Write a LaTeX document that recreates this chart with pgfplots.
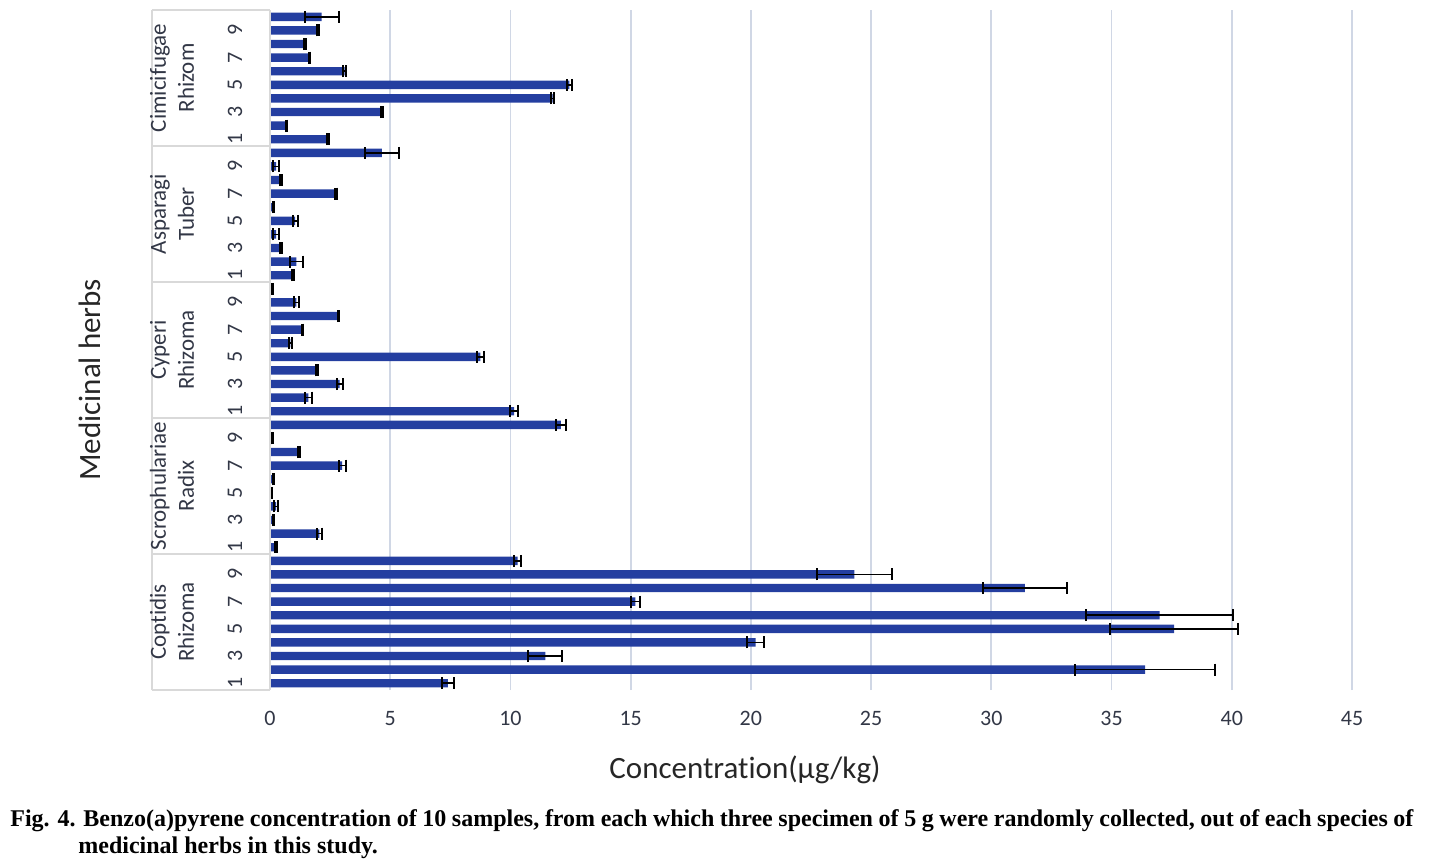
\documentclass[border=0pt]{standalone}
\usepackage{pgfplots}
\pgfplotsset{compat=1.18}
\usepackage{pgfplotstable}
\usepackage{fontspec}
\setmainfont{Carlito}[Ligatures=CommonOff]
\newfontfamily\capfont{Liberation Serif}
\definecolor{barblue}{RGB}{36,62,160}
\definecolor{gridc}{RGB}{208,215,229}
\definecolor{boxgray}{RGB}{217,217,217}
\definecolor{txt}{RGB}{50,55,70}

\pgfplotstableread{
y x err
1 7.4 0.25
2 36.4 2.9
3 11.45 0.7
4 20.2 0.35
5 37.6 2.65
6 37.0 3.05
7 15.2 0.2
8 31.4 1.75
9 24.3 1.55
10 10.3 0.15
11 0.25 0.05
12 2.05 0.1
13 0.15 0.03
14 0.25 0.08
15 0.05 0.02
16 0.15 0.03
17 3.0 0.15
18 1.2 0.03
19 0.1 0.02
20 12.1 0.2
21 10.15 0.15
22 1.6 0.15
23 2.9 0.12
24 1.95 0.05
25 8.75 0.15
26 0.85 0.05
27 1.35 0.03
28 2.85 0.03
29 1.1 0.1
30 0.1 0.02
31 0.95 0.03
32 1.1 0.28
33 0.45 0.05
34 0.25 0.12
35 1.05 0.1
36 0.15 0.03
37 2.75 0.03
38 0.45 0.03
39 0.25 0.12
40 4.65 0.7
41 2.4 0.05
42 0.7 0.02
43 4.65 0.05
44 11.75 0.08
45 12.45 0.1
46 3.1 0.05
47 1.65 0.03
48 1.45 0.05
49 2.0 0.03
50 2.15 0.7
}\data

\begin{document}
\begin{tikzpicture}
\path[use as bounding box] (-135pt,-87pt) rectangle (581.5pt,345pt);
\begin{axis}[
  scale only axis, width=541pt, height=340pt,
  xmin=0, xmax=45, ymin=0.5, ymax=50.5,
  enlargelimits=false, clip=false,
  axis lines*=left, axis line style={draw=none},
  xmajorgrids, major grid style={color=gridc, line width=0.9pt},
  xtick={0,5,...,45},
  ytick={1,3,...,49},
  yticklabels={1,3,5,7,9,1,3,5,7,9,1,3,5,7,9,1,3,5,7,9,1,3,5,7,9},
  major tick length=0pt,
  /pgf/number format/assume math mode=true,
  xticklabel style={font=\fontsize{11}{13}\selectfont, text=txt, yshift=-7pt},
  yticklabel style={font=\fontsize{11}{13}\selectfont, text=txt, xshift=-17.5pt, rotate=90, anchor=center},
]
\addplot[xbar, fill=barblue, draw=none, bar width=4.2pt,
  error bars/.cd, x dir=both, x explicit, error mark=|,
  error bar style={line width=0.75pt, black},
  error mark options={line width=1pt, mark size=3pt, black}]
  table[x=x, y=y, x error=err] {\data};

% category box
\draw[boxgray, line width=0.8pt] ([xshift=-59pt]axis cs:0,0.5) -- ([xshift=-59pt]axis cs:0,50.5);
\draw[boxgray, line width=0.8pt] (axis cs:0,0.5) -- (axis cs:0,50.5);
\draw[boxgray, line width=0.8pt] ([xshift=-59pt]axis cs:0,0.5) -- (axis cs:0,0.5);
\draw[boxgray, line width=0.8pt] ([xshift=-59pt]axis cs:0,10.5) -- (axis cs:0,10.5);
\draw[boxgray, line width=0.8pt] ([xshift=-59pt]axis cs:0,20.5) -- (axis cs:0,20.5);
\draw[boxgray, line width=0.8pt] ([xshift=-59pt]axis cs:0,30.5) -- (axis cs:0,30.5);
\draw[boxgray, line width=0.8pt] ([xshift=-59pt]axis cs:0,40.5) -- (axis cs:0,40.5);
\draw[boxgray, line width=0.8pt] ([xshift=-59pt]axis cs:0,50.5) -- (axis cs:0,50.5);

% group labels
\begin{scope}[every node/.style={rotate=90, align=center, text=txt, font=\fontsize{11.5}{14}\selectfont}]
\node at ([xshift=-49pt]axis cs:0,5.5) {Coptidis\\Rhizoma};
\node at ([xshift=-49pt]axis cs:0,15.5) {Scrophulariae\\Radix};
\node at ([xshift=-49pt]axis cs:0,25.5) {Cyperi\\Rhizoma};
\node at ([xshift=-49pt]axis cs:0,35.5) {Asparagi\\Tuber};
\node at ([xshift=-49pt]axis cs:0,45.5) {Cimicifugae\\Rhizom};
\end{scope}

% axis titles
\node[font=\fontsize{15.5}{18}\selectfont, anchor=center, text=black!85] at ([yshift=-40pt]rel axis cs:0.439,0) {Concentration(μg/kg)};
\node[font=\fontsize{15.5}{18}\selectfont, rotate=90, anchor=center, text=black!85] at ([xshift=-90pt]rel axis cs:0,0.456) {Medicinal herbs};
\end{axis}

% caption
\node[anchor=base west, inner sep=0pt] at (-130pt,-68pt)
  {\capfont\bfseries\fontsize{12}{13.5}\selectfont\hbox to 701.5pt{Fig. 4. Benzo(a)pyrene concentration of 10 samples, from each which three specimen of 5 g were randomly collected, out of each species of}};
\node[anchor=base west, inner sep=0pt] at (-96pt,-81.5pt)
  {\capfont\bfseries\fontsize{12}{13.5}\selectfont medicinal herbs in this study.};
\end{tikzpicture}
\end{document}
